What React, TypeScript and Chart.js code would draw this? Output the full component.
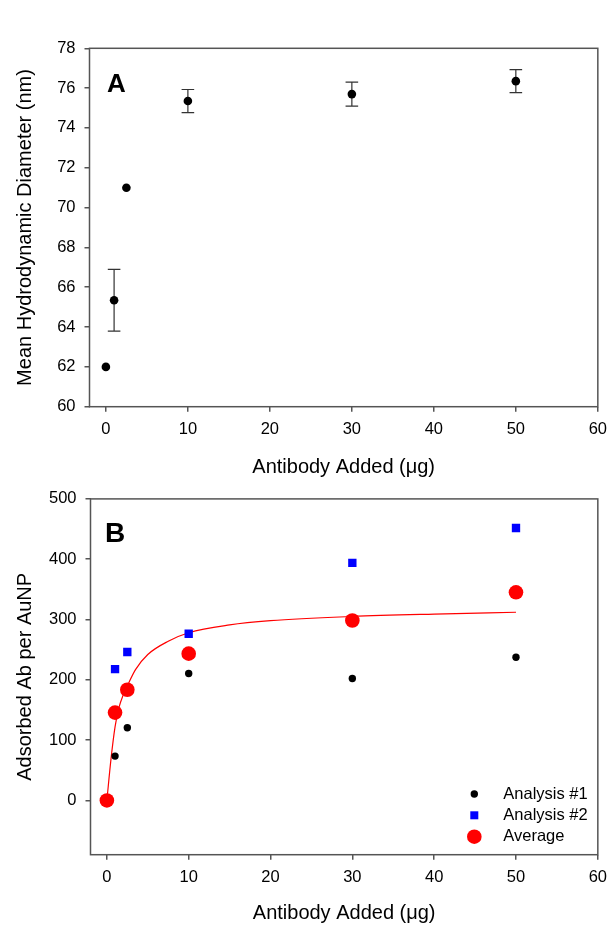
import React, { useEffect, useRef } from 'react';
import { Chart, registerables } from 'chart.js';
Chart.register(...registerables);

const FONT = '"Liberation Sans", Arial, sans-serif';
const AXIS_COLOR = '#555555';

// Panel A data
const antibodyA = [0, 1, 2.5, 10, 30, 50];
const diameterA = [62.0, 65.35, 71.0, 75.35, 75.7, 76.35];
const diameterErr = [0, 1.55, 0, 0.58, 0.6, 0.58];
const yTicksA = [60, 62, 64, 66, 68, 70, 72, 74, 76, 78];
const xTicks = [0, 10, 20, 30, 40, 50, 60];

// Panel B data
const antibodyB = [1, 2.5, 10, 30, 50];
const analysis1 = [73.5, 120.4, 210.4, 202.2, 237.4];
const analysis2 = [217.6, 246.2, 276.4, 394, 451.8];
const antibodyAvg = [0, 1, 2.5, 10, 30, 50];
const average = [0, 145.6, 183.5, 243.4, 298.4, 345.1];
const fitX = [0, 0.5, 1, 1.5, 2, 2.5, 3.5, 5, 7.5, 10, 15, 20, 30, 40, 50];
const fitY = [0, 68, 122, 155, 175, 190, 217, 242, 264, 278, 291, 298, 305, 309, 312];
const yTicksB = [0, 100, 200, 300, 400, 500];

const legendLabels = ['Analysis #1', 'Analysis #2', 'Average'];

const toPts = (xs: number[], ys: number[]) => xs.map((x, i) => ({ x, y: ys[i] }));

const framePlugin = {
  id: 'frame',
  afterDraw(chart: any) {
    const { ctx, chartArea: a } = chart;
    ctx.save();
    ctx.strokeStyle = AXIS_COLOR;
    ctx.lineWidth = 1.5;
    ctx.strokeRect(a.left, a.top, a.right - a.left, a.bottom - a.top);
    ctx.restore();
  },
};

const makeLetterPlugin = (letter: string, x: number, y: number, size: number) => ({
  id: 'letter' + letter,
  afterDraw(chart: any) {
    const ctx = chart.ctx;
    ctx.save();
    ctx.fillStyle = '#000';
    ctx.font = `bold ${size}px ${FONT}`;
    ctx.textAlign = 'left';
    ctx.textBaseline = 'alphabetic';
    ctx.fillText(letter, x, y);
    ctx.restore();
  },
});

const errorBarPlugin = {
  id: 'errorBars',
  beforeDatasetsDraw(chart: any) {
    const { ctx, scales } = chart;
    const xs = scales.x;
    const ys = scales.y;
    ctx.save();
    ctx.strokeStyle = '#333';
    ctx.lineWidth = 1.2;
    antibodyA.forEach((xv, i) => {
      const e = diameterErr[i];
      if (!e) return;
      const px = xs.getPixelForValue(xv);
      const top = ys.getPixelForValue(diameterA[i] + e);
      const bot = ys.getPixelForValue(diameterA[i] - e);
      ctx.beginPath();
      ctx.moveTo(px, top);
      ctx.lineTo(px, bot);
      ctx.moveTo(px - 6.3, top);
      ctx.lineTo(px + 6.3, top);
      ctx.moveTo(px - 6.3, bot);
      ctx.lineTo(px + 6.3, bot);
      ctx.stroke();
    });
    ctx.restore();
  },
};

const legendPluginB = {
  id: 'legendB',
  afterDraw(chart: any) {
    const ctx = chart.ctx;
    const mx = 474.3;
    const tx = 503.3;
    const rows = [314, 335.3, 356.7];
    ctx.save();
    ctx.fillStyle = '#000000';
    ctx.beginPath();
    ctx.arc(mx, rows[0], 3.7, 0, Math.PI * 2);
    ctx.fill();
    ctx.fillStyle = '#0000FF';
    ctx.fillRect(mx - 4, rows[1] - 4, 8, 8);
    ctx.fillStyle = '#FF0000';
    ctx.beginPath();
    ctx.arc(mx, rows[2], 7.3, 0, Math.PI * 2);
    ctx.fill();
    ctx.fillStyle = '#000';
    ctx.font = `16.5px ${FONT}`;
    ctx.textAlign = 'left';
    ctx.textBaseline = 'middle';
    legendLabels.forEach((l, i) => ctx.fillText(l, tx, rows[i]));
    ctx.restore();
  },
};

function xScale(bottomPad: number, height: number) {
  return {
    type: 'linear',
    min: -2,
    max: 60,
    afterBuildTicks: (axis: any) => {
      axis.ticks = xTicks.map((v) => ({ value: v }));
    },
    afterFit: (s: any) => {
      s.height = height;
    },
    border: { display: false },
    grid: { display: true, drawOnChartArea: false, drawTicks: true, tickLength: 5, color: AXIS_COLOR, lineWidth: 1.5 },
    ticks: { color: '#000', font: { family: FONT, size: 16.5 }, padding: 8, maxRotation: 0 },
    title: {
      display: true,
      text: 'Antibody Added (μg)',
      color: '#000',
      font: { family: FONT, size: 20 },
      padding: { top: 0, bottom: bottomPad },
    },
  };
}

function yScale(min: number, max: number, ticks: number[], width: number, title: string) {
  return {
    type: 'linear',
    min,
    max,
    afterBuildTicks: (axis: any) => {
      axis.ticks = ticks.map((v) => ({ value: v }));
    },
    afterFit: (s: any) => {
      s.width = width;
    },
    border: { display: false },
    grid: { display: true, drawOnChartArea: false, drawTicks: true, tickLength: 5, color: AXIS_COLOR, lineWidth: 1.5 },
    ticks: { color: '#000', font: { family: FONT, size: 16.5 }, padding: 9 },
    title: {
      display: true,
      text: title,
      color: '#000',
      font: { family: FONT, size: 20 },
      padding: { top: 13.5, bottom: 0 },
    },
  };
}

export default function App() {
  const refA = useRef<HTMLCanvasElement>(null);
  const refB = useRef<HTMLCanvasElement>(null);

  useEffect(() => {
    const chartA = new Chart(refA.current as HTMLCanvasElement, {
      type: 'scatter',
      data: {
        datasets: [
          {
            label: 'Mean diameter',
            data: toPts(antibodyA, diameterA),
            backgroundColor: '#000000',
            borderColor: '#000000',
            borderWidth: 0,
            pointRadius: 4.3,
            pointHoverRadius: 4.3,
          },
        ],
      },
      options: {
        responsive: false,
        animation: false,
        layout: { padding: { top: 48.3, right: 14, left: 0, bottom: 0 } },
        plugins: { legend: { display: false }, tooltip: { enabled: false } },
        scales: {
          x: xScale(0.8, 480 - 406.7) as any,
          y: yScale(60, 78, yTicksA, 89.5, 'Mean Hydrodynamic Diameter (nm)') as any,
        },
      },
      plugins: [errorBarPlugin, framePlugin, makeLetterPlugin('A', 107, 92.3, 26)],
    });

    const chartB = new Chart(refB.current as HTMLCanvasElement, {
      type: 'scatter',
      data: {
        datasets: [
          {
            label: 'Analysis #1',
            data: toPts(antibodyB, analysis1),
            backgroundColor: '#000000',
            borderWidth: 0,
            pointRadius: 3.7,
            order: 1,
          },
          {
            label: 'Analysis #2',
            data: toPts(antibodyB, analysis2),
            backgroundColor: '#0000FF',
            borderWidth: 0,
            pointStyle: 'rect',
            pointRadius: 5.9,
            order: 1,
          },
          {
            label: 'Average',
            data: toPts(antibodyAvg, average),
            backgroundColor: '#FF0000',
            borderWidth: 0,
            pointRadius: 7.3,
            order: 0,
          },
          {
            label: 'Fit',
            data: toPts(fitX, fitY),
            showLine: true,
            borderColor: '#FF0000',
            borderWidth: 1.2,
            pointRadius: 0,
            cubicInterpolationMode: 'monotone',
            order: 2,
          } as any,
        ],
      },
      options: {
        responsive: false,
        animation: false,
        layout: { padding: { top: 16.7, right: 13.5, left: 0, bottom: 0 } },
        plugins: { legend: { display: false }, tooltip: { enabled: false } },
        scales: {
          x: xScale(0.6, 446 - 374.7) as any,
          y: yScale(-90, 500, yTicksB, 90.5, 'Adsorbed Ab per AuNP') as any,
        },
      },
      plugins: [framePlugin, legendPluginB, makeLetterPlugin('B', 105, 62, 28)],
    });

    return () => {
      chartA.destroy();
      chartB.destroy();
    };
  }, []);

  return (
    <div style={{ position: 'absolute', left: 0, top: 0, width: 615, height: 926, background: '#fff' }}>
      <canvas
        ref={refA}
        width={615}
        height={480}
        style={{ position: 'absolute', left: 0, top: 0, width: 615, height: 480 }}
      />
      <canvas
        ref={refB}
        width={615}
        height={446}
        style={{ position: 'absolute', left: 0, top: 480, width: 615, height: 446 }}
      />
    </div>
  );
}
